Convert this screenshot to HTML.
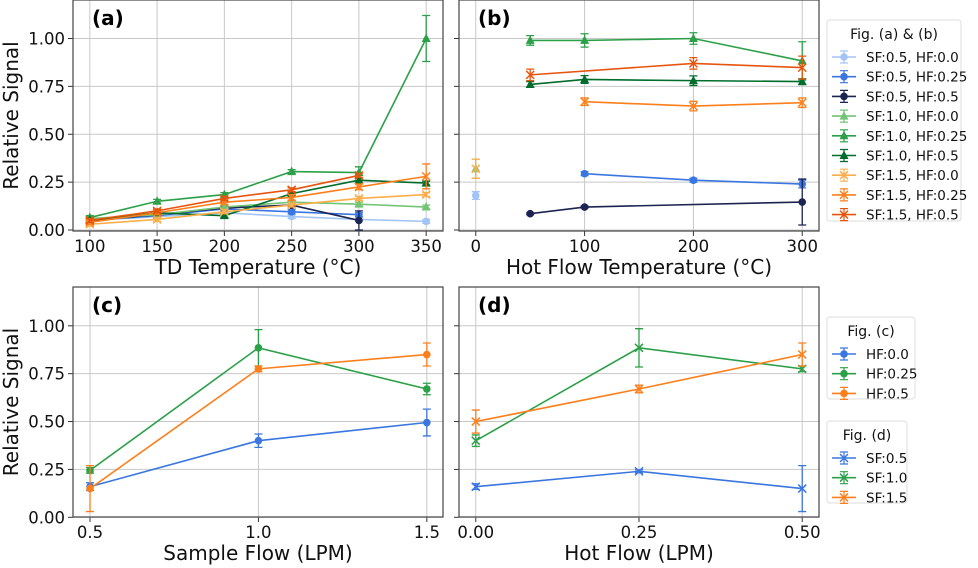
<!DOCTYPE html>
<html><head><meta charset="utf-8">
<style>
html,body{margin:0;padding:0;background:#fff;}
svg{display:block;font-family:"DejaVu Sans","Liberation Sans",sans-serif;}
</style></head>
<body>
<svg id="chart" width="978" height="568" viewBox="0 0 978 568" xmlns="http://www.w3.org/2000/svg"></svg>
<script>
// ---- data ----
const xA = [100,150,200,250,300,350];
const aS05H00 = [0.05,0.07,0.09,0.07,0.055,0.045];
const aS05H25 = [0.05,0.075,0.11,0.095,0.08,null];
const aS05H50 = [0.05,0.08,0.115,0.13,0.05,null];
const aS10H00 = [0.06,0.08,0.12,0.145,0.135,0.12];
const aS10H25 = [0.065,0.15,0.185,0.305,0.30,1.0];
const aS10H50 = [0.05,0.09,0.075,0.19,0.26,0.245];
const aS15H00 = [0.03,0.055,0.095,0.13,0.165,0.185];
const aS15H25 = [0.04,0.09,0.145,0.17,0.225,0.28];
const aS15H50 = [0.05,0.10,0.165,0.21,0.285,null];
const aErr10H25 = [0.01,0.01,0.01,0.01,0.03,0.12];
const aErr15H25 = [0.01,0.01,0.01,0.015,0.015,0.065];
const aErr05H50 = [0.01,0.01,0.01,0.01,0.05,0];

const xB = [0,50,100,200,300];
const bS05H00 = [0.18,null,null,null,null];
const bS05H25 = [null,null,0.294,0.26,0.24];
const bS05H50 = [null,0.085,0.12,null,0.146];
const bS10H00 = [0.32,null,null,null,null];
const bS10H25 = [null,0.99,0.99,1.0,0.883];
const bS10H50 = [null,0.76,0.786,0.78,0.775];
const bS15H00 = [0.32,null,null,null,null];
const bS15H25 = [null,null,0.67,0.647,0.665];
const bS15H50 = [null,0.81,null,0.87,0.848];

const xC = [0.5,1.0,1.5];
const cHF00 = [0.16,0.40,0.495];
const cHF25 = [0.245,0.885,0.67];
const cHF50 = [0.15,0.775,0.85];
const cErr00 = [0.02,0.035,0.07];
const cErr25 = [0.015,0.095,0.03];
const cErr50 = [0.12,0.015,0.06];

const xD = [0,0.25,0.5];
const dSF05 = [0.16,0.24,0.15];
const dSF10 = [0.40,0.885,0.775];
const dSF15 = [0.50,0.67,0.85];
const dErr05 = [0.015,0.008,0.12];
const dErr10 = [0.03,0.1,0.015];
const dErr15 = [0.06,0.02,0.06];

const yTicks = [0,0.25,0.5,0.75,1.0];
const yTickLabels = ["0.00","0.25","0.50","0.75","1.00"];

// ---- helpers ----
const NS="http://www.w3.org/2000/svg";
const svg=document.getElementById('chart');
function mk(tag,attrs,parent){const e=document.createElementNS(NS,tag);for(const k in attrs)e.setAttribute(k,attrs[k]);(parent||svg).appendChild(e);return e;}
function txt(s,attrs,parent){const e=mk('text',attrs,parent);e.textContent=s;return e;}

const C={lb:'#a3c4f7',b:'#3a76df',nv:'#1c2452',lg:'#74c476',g:'#2ca048',dg:'#006d2c',lo:'#fdae4b',o:'#fd7f1c',ro:'#e6550d'};

function panel(name,box,xdom,xticks,xlabels,xtitle,letter,showY){
  const g=mk('g',{});
  
  
  const sx=v=>box.l+(v-xdom[0])/(xdom[1]-xdom[0])*(box.r-box.l);
  const sy=v=>box.y0-v*191.5;
  xticks.forEach((t,i)=>{
    const gl=mk('line',{x1:sx(t),x2:sx(t),y1:box.t,y2:box.b,stroke:'#c8c8c8','stroke-width':1},g);
    
    mk('line',{x1:sx(t),x2:sx(t),y1:box.b,y2:box.b+5,stroke:'#333','stroke-width':1},g);
    const tl=txt(xlabels[i],{x:sx(t),y:box.b+21,'font-size':16.5,'text-anchor':'middle',fill:'#111'},g);
    
  });
  yTicks.forEach((t,i)=>{
    const gl=mk('line',{x1:box.l,x2:box.r,y1:sy(t),y2:sy(t),stroke:'#c8c8c8','stroke-width':1},g);
    
    mk('line',{x1:box.l-5,x2:box.l,y1:sy(t),y2:sy(t),stroke:'#333','stroke-width':1},g);
    if(showY){const tl=txt(yTickLabels[i],{x:box.l-8,y:sy(t)+6,'font-size':16.5,'text-anchor':'end',fill:'#111'},g);
      }
  });
  const fr=mk('rect',{x:box.l,y:box.t,width:box.r-box.l,height:box.b-box.t,fill:'none',stroke:'#444','stroke-width':1.2},g);
  
  const xt=txt(xtitle,{x:(box.l+box.r)/2,y:box.b+43,'font-size':20,'text-anchor':'middle',fill:'#111'},g);
  
  if(showY){const yt=txt('Relative Signal',{x:0,y:0,'font-size':20,'text-anchor':'middle',fill:'#111',transform:`translate(18,${(box.t+box.b)/2}) rotate(-90)`},g);
    }
  const lt=txt(letter,{x:box.l+19,y:box.t+25,'font-size':20,'font-weight':'bold',fill:'#000'},g);
  
  return {g,sx,sy};
}

function marker(type,x,y,col,parent){
  let m;
  if(type==='o') m=mk('circle',{cx:x,cy:y,r:3.8,fill:col},parent);
  else if(type==='^') m=mk('path',{d:`M${x},${y-5}L${x+4.5},${y+3.5}L${x-4.5},${y+3.5}Z`,fill:col},parent);
  else m=mk('path',{d:`M${x-4},${y-4}L${x+4},${y+4}M${x-4},${y+4}L${x+4},${y-4}`,stroke:col,'stroke-width':1.5,fill:'none'},parent);
  return m;
}

function series(p,name,xs,ys,errs,col,mtype){
  const g=mk('g',{},p.g);
  
  
  const pts=[];
  xs.forEach((x,i)=>{if(ys[i]!==null&&ys[i]!==undefined)pts.push([p.sx(x),p.sy(ys[i]),errs?errs[i]:0.01]);});
  if(pts.length>1){const l=mk('polyline',{points:pts.map(q=>q[0]+','+q[1]).join(' '),fill:'none',stroke:col,'stroke-width':1.6},g);
    }
  pts.forEach(q=>{
    const e=q[2]*191.5;
    mk('path',{d:`M${q[0]},${q[1]-e}V${q[1]+e}M${q[0]-4},${q[1]-e}H${q[0]+4}M${q[0]-4},${q[1]+e}H${q[0]+4}`,stroke:col,'stroke-width':1.3,fill:'none'},g);
    const m=marker(mtype,q[0],q[1],col,g);
    
    
  });
}

function legend(name,x,y,w,h,title,items){
  const g=mk('g',{});
  
  
  mk('rect',{x,y,width:w,height:h,rx:3,fill:'#fff',stroke:'#ddd','stroke-width':1},g);
  txt(title,{x:x+w/2,y:y+19,'font-size':14,'text-anchor':'middle',fill:'#111'},g);
  items.forEach((it,i)=>{
    const cy=y+37+i*19.7;
    const ig=mk('g',{},g);
    
    
    mk('line',{x1:x+5,x2:x+29,y1:cy,y2:cy,stroke:it[1],'stroke-width':1.6},ig);
    mk('path',{d:`M${x+17},${cy-6}V${cy+6}M${x+13},${cy-6}H${x+21}M${x+13},${cy+6}H${x+21}`,stroke:it[1],'stroke-width':1.2,fill:'none'},ig);
    marker(it[2],x+17,cy,it[1],ig);
    txt(it[0],{x:x+39,y:cy+5,'font-size':13.5,fill:'#111'},ig);
  });
}

// ---- panels ----
const pa=panel('panel-a',{l:73,r:443,t:0,b:231,y0:230},[87.5,362.5],xA,["100","150","200","250","300","350"],'TD Temperature (°C)','(a)',true);
series(pa,'a-sf05-hf00',xA,aS05H00,null,C.lb,'o');
series(pa,'a-sf05-hf025',xA,aS05H25,null,C.b,'o');
series(pa,'a-sf05-hf05',xA,aS05H50,aErr05H50,C.nv,'o');
series(pa,'a-sf10-hf00',xA,aS10H00,null,C.lg,'^');
series(pa,'a-sf10-hf025',xA,aS10H25,aErr10H25,C.g,'^');
series(pa,'a-sf10-hf05',xA,aS10H50,null,C.dg,'^');
series(pa,'a-sf15-hf00',xA,aS15H00,null,C.lo,'x');
series(pa,'a-sf15-hf025',xA,aS15H25,aErr15H25,C.o,'x');
series(pa,'a-sf15-hf05',xA,aS15H50,null,C.ro,'x');

const pb=panel('panel-b',{l:459,r:819,t:0,b:231,y0:230},[-15.4,315.4],[0,100,200,300],["0","100","200","300"],'Hot Flow Temperature (°C)','(b)',false);
series(pb,'b-sf05-hf00',xB,bS05H00,[0.02],C.lb,'o');
series(pb,'b-sf05-hf025',xB,bS05H25,[0,0,0.01,0.01,0.02],C.b,'o');
series(pb,'b-sf05-hf05',xB,bS05H50,[0,0.005,0.005,0,0.12],C.nv,'o');
series(pb,'b-sf10-hf00',xB,bS10H00,[0.05],C.lg,'^');
series(pb,'b-sf10-hf025',xB,bS10H25,[0,0.025,0.035,0.03,0.1],C.g,'^');
series(pb,'b-sf10-hf05',xB,bS10H50,[0,0.015,0.02,0.025,0.015],C.dg,'^');
series(pb,'b-sf15-hf00',xB,bS15H00,[0.05],C.lo,'x');
series(pb,'b-sf15-hf025',xB,bS15H25,[0,0,0.02,0.025,0.025],C.o,'x');
series(pb,'b-sf15-hf05',xB,bS15H50,[0,0.03,0,0.03,0.06],C.ro,'x');

const pc=panel('panel-c',{l:73,r:443,t:287,b:517,y0:517.3},[0.4495,1.548],[0.5,1.0,1.5],["0.5","1.0","1.5"],'Sample Flow (LPM)','(c)',true);
series(pc,'c-hf00',xC,cHF00,cErr00,C.b,'o');
series(pc,'c-hf025',xC,cHF25,cErr25,C.g,'o');
series(pc,'c-hf05',xC,cHF50,cErr50,C.o,'o');

const pd=panel('panel-d',{l:459,r:819,t:287,b:517,y0:517.3},[-0.0257,0.5257],[0,0.25,0.5],["0.00","0.25","0.50"],'Hot Flow (LPM)','(d)',false);
series(pd,'d-sf05',xD,dSF05,dErr05,C.b,'x');
series(pd,'d-sf10',xD,dSF10,dErr10,C.g,'x');
series(pd,'d-sf15',xD,dSF15,dErr15,C.o,'x');

// ---- legends ----
legend('legend-ab',827,20,134,201,'Fig. (a) & (b)',[
 ['SF:0.5, HF:0.0',C.lb,'o'],['SF:0.5, HF:0.25',C.b,'o'],['SF:0.5, HF:0.5',C.nv,'o'],
 ['SF:1.0, HF:0.0',C.lg,'^'],['SF:1.0, HF:0.25',C.g,'^'],['SF:1.0, HF:0.5',C.dg,'^'],
 ['SF:1.5, HF:0.0',C.lo,'x'],['SF:1.5, HF:0.25',C.o,'x'],['SF:1.5, HF:0.5',C.ro,'x']]);
legend('legend-c',827,317,88,82,'Fig. (c)',[['HF:0.0',C.b,'o'],['HF:0.25',C.g,'o'],['HF:0.5',C.o,'o']]);
legend('legend-d',827,421,80,82,'Fig. (d)',[['SF:0.5',C.b,'x'],['SF:1.0',C.g,'x'],['SF:1.5',C.o,'x']]);
</script>
</body></html>
